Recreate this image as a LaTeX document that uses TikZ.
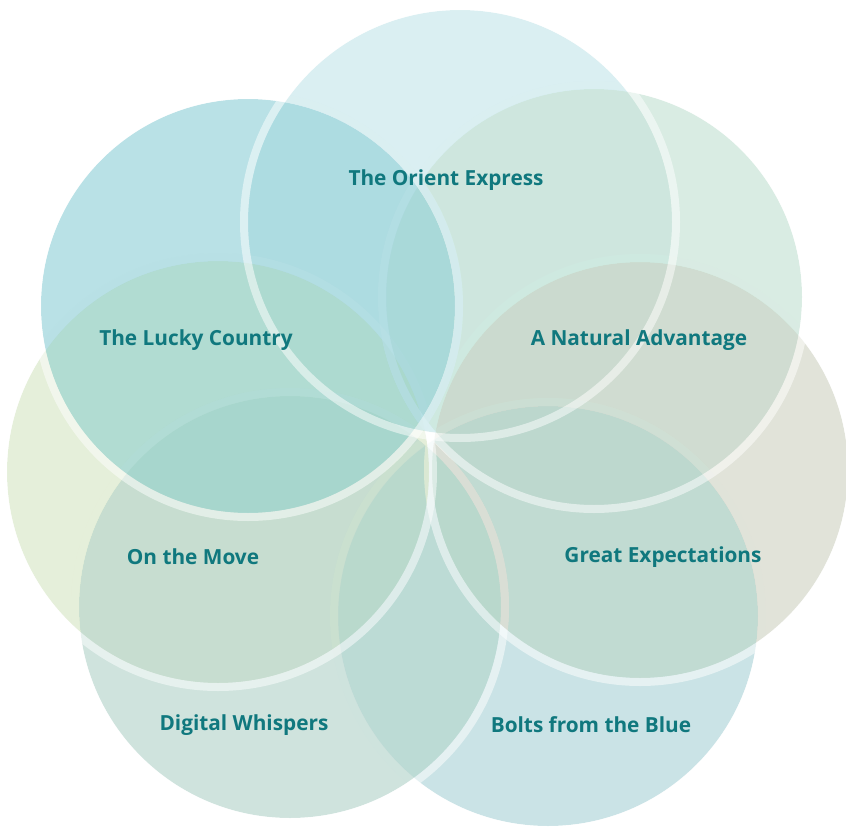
\documentclass[tikz,border=0pt]{standalone}
\usepackage{fontspec}
\setmainfont{Open Sans}
\usetikzlibrary{positioning}

\definecolor{petalTop}{RGB}{202,232,236}
\definecolor{petalUL}{RGB}{155,212,219}
\definecolor{petalUR}{RGB}{201,228,215}
\definecolor{petalL}{RGB}{218,232,202}
\definecolor{petalR}{RGB}{212,215,201}
\definecolor{petalBL}{RGB}{186,215,207}
\definecolor{petalBR}{RGB}{180,215,219}
\definecolor{petalText}{RGB}{16,120,126}

\tikzset{
  petal/.style={fill=#1, fill opacity=0.7, blend mode=darken, draw=none},
  rim/.style={draw=white, draw opacity=0.5, line width=8pt},
  petaltext/.style={font=\bfseries\fontsize{20.8}{25}\selectfont, text=petalText}
}

\begin{document}
\begin{tikzpicture}[x=1pt, y=-1pt]
				\useasboundingbox (0,0) rectangle (846,827);

				% Petals, each one laid over the one before it
				\fill[petal=petalBR] (548,616) circle (210);
				\draw[rim] (548,616) circle (214);

				\fill[petal=petalBL] (290,607) circle (211);
				\draw[rim] (290,607) circle (215);

				\fill[petal=petalR] (640,470) circle (208);
				\draw[rim] (640,470) circle (212);

				\fill[petal=petalL] (218,472) circle (211);
				\draw[rim] (218,472) circle (215);

				\fill[petal=petalUR] (594,297) circle (208);
				\draw[rim] (594,297) circle (212);

				\fill[petal=petalUL] (248,306) circle (207);
				\draw[rim] (248,306) circle (211);

				\fill[petal=petalTop] (460,222) circle (212);
				\draw[rim] (460,222) circle (216);

				% Petal titles
				\node[petaltext] (orient) at (446,180) {The Orient Express};
				\node[petaltext] (lucky) at (196,340) {The Lucky Country};
				\node[petaltext] (natural) at (639,340) {A Natural Advantage};
				\node[petaltext] (move) at (193,557) {On the Move};
				\node[petaltext] (great) at (663,557) {Great Expectations};
				\node[petaltext] (digital) at (244,725) {Digital Whispers};
				\node[petaltext] (bolts) at (591,725) {Bolts from the Blue};
			\end{tikzpicture}
\end{document}
